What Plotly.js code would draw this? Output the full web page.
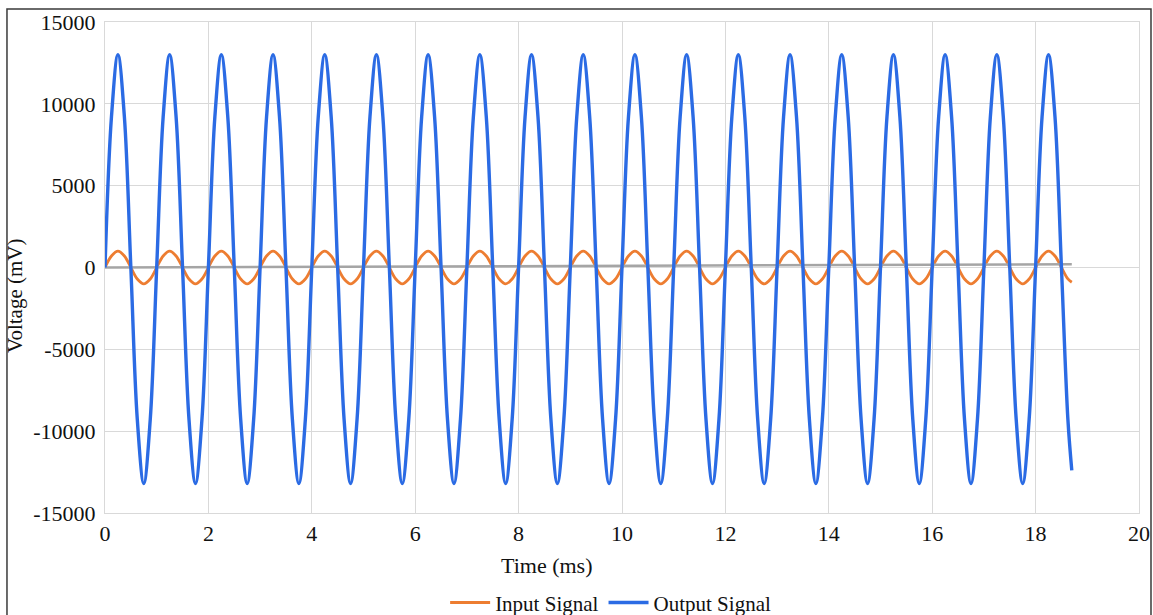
<!DOCTYPE html>
<html>
<head>
<meta charset="utf-8">
<script src="https://cdn.plot.ly/plotly-3.0.1.min.js"></script>
<style>
  html, body { margin: 0; padding: 0; background: #ffffff; }
  #chart { width: 1153px; height: 615px; }
</style>
</head>
<body>
<div id="chart"></div>
<script>
// Sample times (ms), eight samples per 1 ms cycle
const timeMs = [
  0, 0.125, 0.25, 0.375, 0.5, 0.625, 0.75, 0.875,
  1, 1.125, 1.25, 1.375, 1.5, 1.625, 1.75, 1.875,
  2, 2.125, 2.25, 2.375, 2.5, 2.625, 2.75, 2.875,
  3, 3.125, 3.25, 3.375, 3.5, 3.625, 3.75, 3.875,
  4, 4.125, 4.25, 4.375, 4.5, 4.625, 4.75, 4.875,
  5, 5.125, 5.25, 5.375, 5.5, 5.625, 5.75, 5.875,
  6, 6.125, 6.25, 6.375, 6.5, 6.625, 6.75, 6.875,
  7, 7.125, 7.25, 7.375, 7.5, 7.625, 7.75, 7.875,
  8, 8.125, 8.25, 8.375, 8.5, 8.625, 8.75, 8.875,
  9, 9.125, 9.25, 9.375, 9.5, 9.625, 9.75, 9.875,
  10, 10.125, 10.25, 10.375, 10.5, 10.625, 10.75, 10.875,
  11, 11.125, 11.25, 11.375, 11.5, 11.625, 11.75, 11.875,
  12, 12.125, 12.25, 12.375, 12.5, 12.625, 12.75, 12.875,
  13, 13.125, 13.25, 13.375, 13.5, 13.625, 13.75, 13.875,
  14, 14.125, 14.25, 14.375, 14.5, 14.625, 14.75, 14.875,
  15, 15.125, 15.25, 15.375, 15.5, 15.625, 15.75, 15.875,
  16, 16.125, 16.25, 16.375, 16.5, 16.625, 16.75, 16.875,
  17, 17.125, 17.25, 17.375, 17.5, 17.625, 17.75, 17.875,
  18, 18.125, 18.25, 18.375, 18.5, 18.625, 18.7
];

// Input signal (mV)
const inputSignal = [
  0, 700, 1000, 700, 0, -700, -1000, -700,
  0, 700, 1000, 700, 0, -700, -1000, -700,
  0, 700, 1000, 700, 0, -700, -1000, -700,
  0, 700, 1000, 700, 0, -700, -1000, -700,
  0, 700, 1000, 700, 0, -700, -1000, -700,
  0, 700, 1000, 700, 0, -700, -1000, -700,
  0, 700, 1000, 700, 0, -700, -1000, -700,
  0, 700, 1000, 700, 0, -700, -1000, -700,
  0, 700, 1000, 700, 0, -700, -1000, -700,
  0, 700, 1000, 700, 0, -700, -1000, -700,
  0, 700, 1000, 700, 0, -700, -1000, -700,
  0, 700, 1000, 700, 0, -700, -1000, -700,
  0, 700, 1000, 700, 0, -700, -1000, -700,
  0, 700, 1000, 700, 0, -700, -1000, -700,
  0, 700, 1000, 700, 0, -700, -1000, -700,
  0, 700, 1000, 700, 0, -700, -1000, -700,
  0, 700, 1000, 700, 0, -700, -1000, -700,
  0, 700, 1000, 700, 0, -700, -1000, -700,
  0, 700, 1000, 700, 0, -700, -900
];

// Output signal (mV)
const outputSignal = [
  0, 9200, 13000, 9200, 0, -9300, -13200, -9300,
  0, 9200, 13000, 9200, 0, -9300, -13200, -9300,
  0, 9200, 13000, 9200, 0, -9300, -13200, -9300,
  0, 9200, 13000, 9200, 0, -9300, -13200, -9300,
  0, 9200, 13000, 9200, 0, -9300, -13200, -9300,
  0, 9200, 13000, 9200, 0, -9300, -13200, -9300,
  0, 9200, 13000, 9200, 0, -9300, -13200, -9300,
  0, 9200, 13000, 9200, 0, -9300, -13200, -9300,
  0, 9200, 13000, 9200, 0, -9300, -13200, -9300,
  0, 9200, 13000, 9200, 0, -9300, -13200, -9300,
  0, 9200, 13000, 9200, 0, -9300, -13200, -9300,
  0, 9200, 13000, 9200, 0, -9300, -13200, -9300,
  0, 9200, 13000, 9200, 0, -9300, -13200, -9300,
  0, 9200, 13000, 9200, 0, -9300, -13200, -9300,
  0, 9200, 13000, 9200, 0, -9300, -13200, -9300,
  0, 9200, 13000, 9200, 0, -9300, -13200, -9300,
  0, 9200, 13000, 9200, 0, -9300, -13200, -9300,
  0, 9200, 13000, 9200, 0, -9300, -13200, -9300,
  0, 9200, 13000, 9200, 0, -9300, -12400
];

// Reference baseline (mV), drifting slightly upward
const baselineTime = [0, 18.7];
const baselineSignal = [0, 200];

// Axis ticks
const xTicks = [0, 2, 4, 6, 8, 10, 12, 14, 16, 18, 20];
const xTickLabels = ["0", "2", "4", "6", "8", "10", "12", "14", "16", "18", "20"];
const yTicks = [-15000, -10000, -5000, 0, 5000, 10000, 15000];
const yTickLabels = ["-15000", "-10000", "-5000", "0", "5000", "10000", "15000"];

const serif = "Liberation Serif";
const textColor = "#111111";
const gridColor = "#d9d9d9";

const traces = [
  {
    name: "Input Signal",
    x: timeMs, y: inputSignal,
    type: "scatter", mode: "lines",
    line: { color: "#ed7d31", width: 2.8, shape: "spline", smoothing: 1 }
  },
  {
    name: "Baseline",
    x: baselineTime, y: baselineSignal,
    type: "scatter", mode: "lines",
    line: { color: "#a5a5a5", width: 2.5 },
    showlegend: false
  },
  {
    name: "Output Signal",
    x: timeMs, y: outputSignal,
    type: "scatter", mode: "lines",
    line: { color: "#2b6be4", width: 3.4, shape: "spline", smoothing: 1 }
  }
];

const layout = {
  width: 1153, height: 615,
  paper_bgcolor: "#ffffff", plot_bgcolor: "#ffffff",
  margin: { l: 105, r: 14, t: 22, b: 102, autoexpand: false },
  font: { family: serif, size: 20, color: textColor },
  showlegend: true,
  legend: {
    orientation: "h",
    x: 0.489, xanchor: "center",
    y: -0.183, yanchor: "middle",
    font: { family: serif, size: 21, color: textColor },
    itemwidth: 40,
    tracegroupgap: 0
  },
  xaxis: {
    range: [0, 20],
    tickmode: "array", tickvals: xTicks, ticktext: xTickLabels,
    showgrid: true, gridcolor: gridColor, gridwidth: 1,
    zeroline: false,
    showline: true, linecolor: gridColor, mirror: true,
    ticks: "", ticklabelstandoff: 1,
    tickfont: { family: serif, size: 22, color: textColor },
    fixedrange: true
  },
  yaxis: {
    range: [-15000, 15000],
    tickmode: "array", tickvals: yTicks, ticktext: yTickLabels,
    showgrid: true, gridcolor: gridColor, gridwidth: 1,
    zeroline: true, zerolinecolor: gridColor, zerolinewidth: 1,
    showline: true, linecolor: gridColor, mirror: true,
    ticks: "", ticklabelstandoff: 4,
    tickfont: { family: serif, size: 22, color: textColor },
    fixedrange: true
  },
  annotations: [
    {
      text: "Time (ms)",
      xref: "paper", yref: "paper",
      x: 0.4265, y: -0.106,
      xanchor: "center", yanchor: "middle",
      showarrow: false,
      font: { family: serif, size: 22, color: textColor }
    },
    {
      text: "Voltage (mV)",
      xref: "paper", yref: "paper",
      x: -0.087, y: 0.442,
      xanchor: "center", yanchor: "middle",
      textangle: -90,
      showarrow: false,
      font: { family: serif, size: 21, color: textColor }
    }
  ],
  shapes: [
    {
      type: "rect", xref: "paper", yref: "paper",
      x0: -0.0948, x1: 1.0116, y0: -0.3, y1: 1.0265,
      line: { color: "#3a3a3a", width: 1.5 },
      fillcolor: "rgba(0,0,0,0)",
      layer: "below"
    }
  ]
};

Plotly.newPlot("chart", traces, layout, { displayModeBar: false, staticPlot: true });
</script>
</body>
</html>
